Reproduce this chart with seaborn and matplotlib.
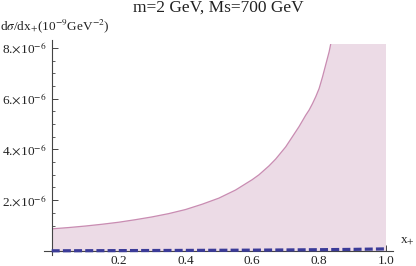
import numpy as np
import pandas as pd
import matplotlib
matplotlib.use("Agg")
import matplotlib.pyplot as plt
import matplotlib.patches as mpatches
import seaborn as sns

# data (values in units of 1e-6)
x_band = [0.0, 0.05, 0.1, 0.15, 0.2, 0.25, 0.3, 0.35, 0.4, 0.45, 0.5, 0.55, 0.6,
          0.62, 0.65, 0.67, 0.7, 0.72, 0.73, 0.74, 0.76, 0.77, 0.78, 0.79, 0.8,
          0.81, 0.82, 0.83, 0.84, 0.87, 0.9, 0.95, 1.0]
y_band = [0.87, 0.92, 0.98, 1.05, 1.13, 1.23, 1.34, 1.47, 1.63, 1.84, 2.08, 2.40,
          2.81, 3.00, 3.35, 3.62, 4.10, 4.50, 4.70, 4.90, 5.35, 5.55, 5.80, 6.08,
          6.40, 6.85, 7.35, 7.85, 8.50, 10.5, 13.0, 20.0, 30.0]
x_dash = [0.0, 0.1, 0.2, 0.3, 0.4, 0.5, 0.6, 0.7, 0.8, 0.9, 1.0]
y_dash = [0.005, 0.008, 0.012, 0.016, 0.02, 0.025, 0.03, 0.038, 0.048, 0.06, 0.08]
x_ticks = [0.2, 0.4, 0.6, 0.8, 1.0]
x_ticklabels = ["0.2", "0.4", "0.6", "0.8", "1.0"]
y_ticks = [2, 4, 6, 8]
y_ticklabels = [r"2.$\times$10$^{-6}$", r"4.$\times$10$^{-6}$",
                r"6.$\times$10$^{-6}$", r"8.$\times$10$^{-6}$"]
title = "m=2 GeV, Ms=700 GeV"
ylabel = r"d$\sigma$/dx$_{+}$(10$^{-9}$GeV$^{-2}$)"
xlabel = r"x$_{+}$"

sns.set_theme(style="ticks")
plt.rcParams["font.family"] = ["Liberation Serif", "DejaVu Serif"]
plt.rcParams["mathtext.fontset"] = "stix"

fig = plt.figure(figsize=(4.16, 2.66), dpi=100)
ax = fig.add_axes([0.1058, 0.0414, 0.8389, 0.8082])

band = pd.DataFrame({"x": x_band, "y": y_band})
dash = pd.DataFrame({"x": x_dash, "y": y_dash})

clip = mpatches.Rectangle((0, -1), 1.0, 1 + 8.16, transform=ax.transData,
                          facecolor="none", edgecolor="none")
ax.add_patch(clip)

fb = ax.fill_between(band["x"], 0, band["y"], color="#ecdbe6", linewidth=0, zorder=1)
fb.set_clip_path(clip)
sns.lineplot(data=band, x="x", y="y", ax=ax, color="#c98cb2", linewidth=0.9,
             zorder=2)
ax.lines[-1].set_clip_path(clip)
sns.lineplot(data=dash, x="x", y="y", ax=ax, color="#3b3b98", linewidth=2.3,
             zorder=3)
ax.lines[-1].set_dashes([2.5, 1.0])
ax.lines[-1].set_dash_capstyle("butt")

ax.set_xlim(-0.023, 1.021)
ax.set_ylim(-0.16, 8.31)
ax.set_xlabel("")
ax.set_ylabel("")

for s in ["top", "right"]:
    ax.spines[s].set_visible(False)
ax.spines["left"].set_position(("data", 0))
ax.spines["bottom"].set_position(("data", 0))
for s in ["left", "bottom"]:
    ax.spines[s].set_color("#444444")
    ax.spines[s].set_linewidth(0.8)

ax.set_xticks(x_ticks)
ax.set_xticklabels(x_ticklabels)
ax.set_xticks(np.arange(0.05, 1.0001, 0.05), minor=True)
ax.set_yticks(y_ticks)
ax.set_yticklabels(y_ticklabels)
ax.set_yticks([v for v in np.arange(0.5, 8.31, 0.5) if v % 2 != 0], minor=True)

ax.tick_params(axis="both", which="major", direction="in", length=4, width=0.7,
               color="#444444", labelsize=9.5, labelcolor="#222222")
ax.tick_params(axis="both", which="minor", direction="in", length=2.3, width=0.6,
               color="#444444")
ax.tick_params(axis="x", which="major", pad=3)
ax.tick_params(axis="y", which="major", pad=4)

fig.text(0.524, 1.0, title, ha="center", va="top", fontsize=12.5, color="#222222")
fig.text(0.0, 0.90, ylabel, ha="left", va="center", fontsize=9.5, color="#222222")
fig.text(0.997, 0.095, xlabel, ha="right", va="center", fontsize=9.5, color="#222222")

fig.savefig("out.png", dpi=100)
